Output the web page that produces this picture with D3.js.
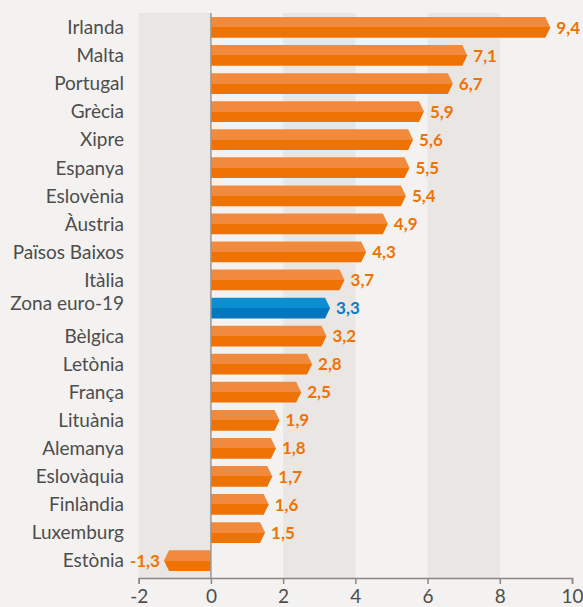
<!DOCTYPE html>
<html>
<head>
<meta charset="utf-8">
<script src="https://cdn.jsdelivr.net/npm/d3@7"></script>
<style>
  html, body { margin: 0; padding: 0; background: #f3f2f0; }
  svg { display: block; font-family: Lato, "Open Sans", sans-serif; }
</style>
</head>
<body>
<div id="chart"></div>
<script>
// countries, top to bottom
var countries = ["Irlanda", "Malta", "Portugal", "Grècia", "Xipre", "Espanya", "Eslovènia",
  "Àustria", "Països Baixos", "Itàlia", "Zona euro-19", "Bèlgica", "Letònia", "França",
  "Lituània", "Alemanya", "Eslovàquia", "Finlàndia", "Luxemburg", "Estònia"];
var values = [9.4, 7.1, 6.7, 5.9, 5.6, 5.5, 5.4, 4.9, 4.3, 3.7, 3.3, 3.2, 2.8, 2.5,
  1.9, 1.8, 1.7, 1.6, 1.5, -1.3];
var highlight = "Zona euro-19";
var xTicks = [-2, 0, 2, 4, 6, 8, 10];
var bandRanges = [[-2, 0], [2, 4], [6, 8]];

var width = 583, height = 607;
var margin = { top: 13, right: 11, bottom: 29, left: 138.7 };

var svg = d3.select("#chart").append("svg")
  .attr("width", width)
  .attr("height", height);

var defs = svg.append("defs");
function grad(id, c1, c2) {
  var g = defs.append("linearGradient").attr("id", id)
    .attr("x1", 0).attr("y1", 0).attr("x2", 0).attr("y2", 1);
  g.append("stop").attr("offset", "0%").attr("stop-color", c1);
  g.append("stop").attr("offset", "50%").attr("stop-color", c1);
  g.append("stop").attr("offset", "50%").attr("stop-color", c2);
  g.append("stop").attr("offset", "100%").attr("stop-color", c2);
}
grad("gOrange", "#f28a3d", "#ef7304");
grad("gBlue", "#0b8fd1", "#0276bf");

var x = d3.scaleLinear().domain([-2, 10]).range([margin.left, width - margin.right]);
var y = d3.scaleBand().domain(countries)
  .range([17, 571]).paddingInner(0.26).paddingOuter(0);

// background bands
svg.append("g").selectAll("rect")
  .data(bandRanges)
  .enter().append("rect")
  .attr("x", function (d) { return x(d[0]); })
  .attr("width", function (d) { return x(d[1]) - x(d[0]); })
  .attr("y", margin.top)
  .attr("height", height - margin.bottom - margin.top)
  .attr("fill", "#e9e6e3");

// bars with arrow heads
var head = 5;
function arrow(d, i) {
  var x0 = x(0), x1 = x(values[i]);
  var y0 = y(d), h = y.bandwidth(), ym = y0 + h / 2;
  var s = x1 >= x0 ? 1 : -1;
  var xb = x1 - s * head;
  return "M" + x0 + "," + y0 + "L" + xb + "," + y0 + "L" + x1 + "," + ym +
    "L" + xb + "," + (y0 + h) + "L" + x0 + "," + (y0 + h) + "Z";
}
svg.append("g").selectAll("path")
  .data(countries)
  .enter().append("path")
  .attr("d", arrow)
  .attr("fill", function (d) { return d === highlight ? "url(#gBlue)" : "url(#gOrange)"; });

// zero line
svg.append("line")
  .attr("x1", x(0)).attr("x2", x(0))
  .attr("y1", margin.top).attr("y2", height - margin.bottom)
  .attr("stroke", "#9a9896").attr("stroke-width", 1.5);

// value labels
svg.append("g").selectAll("text")
  .data(countries)
  .enter().append("text")
  .attr("x", function (d, i) { return values[i] >= 0 ? x(values[i]) + 6 : x(values[i]) - 4; })
  .attr("y", function (d) { return y(d) + y.bandwidth() / 2; })
  .attr("dy", "0.36em")
  .attr("text-anchor", function (d, i) { return values[i] >= 0 ? "start" : "end"; })
  .attr("font-size", 17)
  .attr("font-weight", "bold")
  .attr("fill", function (d) { return d === highlight ? "#0a7cc3" : "#ef7304"; })
  .text(function (d, i) { return values[i].toFixed(1).replace(".", ","); });

// country labels (the euro-area label sits a little higher in the original)
svg.append("g").selectAll("text")
  .data(countries)
  .enter().append("text")
  .attr("x", 124)
  .attr("y", function (d) { return y(d) + y.bandwidth() / 2 - (d === highlight ? 5 : 0); })
  .attr("dy", "0.36em")
  .attr("text-anchor", "end")
  .attr("font-size", 19)
  .attr("fill", "#4d4d4d")
  .text(function (d) { return d; });

// x axis
var axis = svg.append("g")
  .attr("transform", "translate(0," + (height - margin.bottom) + ")")
  .call(d3.axisBottom(x).tickValues(xTicks).tickSize(6).tickPadding(6)
    .tickFormat(function (d) { return String(d); }));
axis.select(".domain").attr("stroke", "#8a8886").attr("stroke-width", 1.5);
axis.selectAll(".tick line").attr("stroke", "#8a8886").attr("stroke-width", 1.5);
axis.selectAll(".tick text").attr("font-size", 19).attr("fill", "#4d4d4d")
  .attr("font-family", "Lato, sans-serif");
</script>
</body>
</html>
